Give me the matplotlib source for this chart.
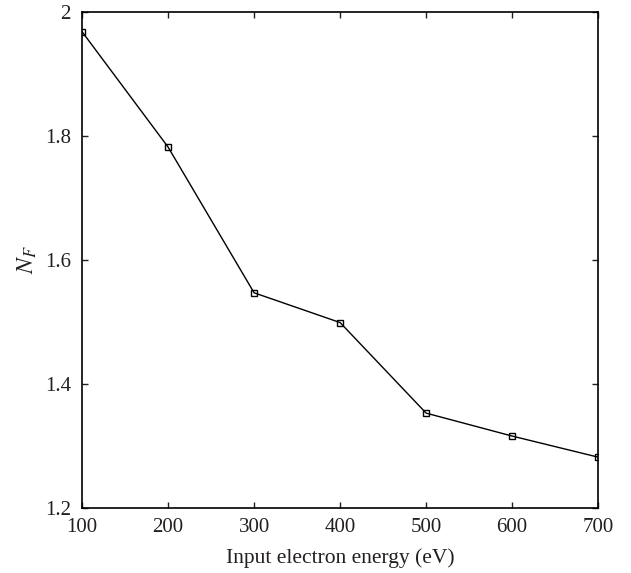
import numpy as np
import matplotlib.pyplot as plt

energia = [100, 200, 300, 400, 500, 600, 700]
nf = [1.968, 1.782, 1.547, 1.499, 1.353, 1.316, 1.282]

plt.rcParams['font.family'] = ['Liberation Serif', 'DejaVu Serif']
plt.rcParams['mathtext.fontset'] = 'stix'

fig = plt.figure(figsize=(6.31, 5.73), dpi=100)
ax = fig.add_axes([0.130, 0.1134, 0.818, 0.866])

ax.plot(energia, nf, color='black', lw=1.0, marker='s', markersize=4,
        markerfacecolor='none', markeredgecolor='black', markeredgewidth=1.0)

ax.set_xlim(100, 700)
ax.set_ylim(1.2, 2.0)
ax.set_xticks([100, 200, 300, 400, 500, 600, 700])
ax.set_yticks([1.2, 1.4, 1.6, 1.8, 2.0])
ax.set_yticklabels(['1.2', '1.4', '1.6', '1.8', '2'])
ax.tick_params(direction='in', top=True, right=True, length=4, width=1,
               labelsize=15, colors='#231f20')
ax.tick_params(axis='x', pad=7)
ax.tick_params(axis='y', pad=8)
for s in ax.spines.values():
    s.set_linewidth(1.2)

ax.set_xlabel('Input electron energy (eV)', fontsize=15.5, color='#231f20', labelpad=8)
ax.set_ylabel(r'$N_F$', fontsize=17, color='#231f20', labelpad=4)

fig.savefig('out.png', dpi=100)
